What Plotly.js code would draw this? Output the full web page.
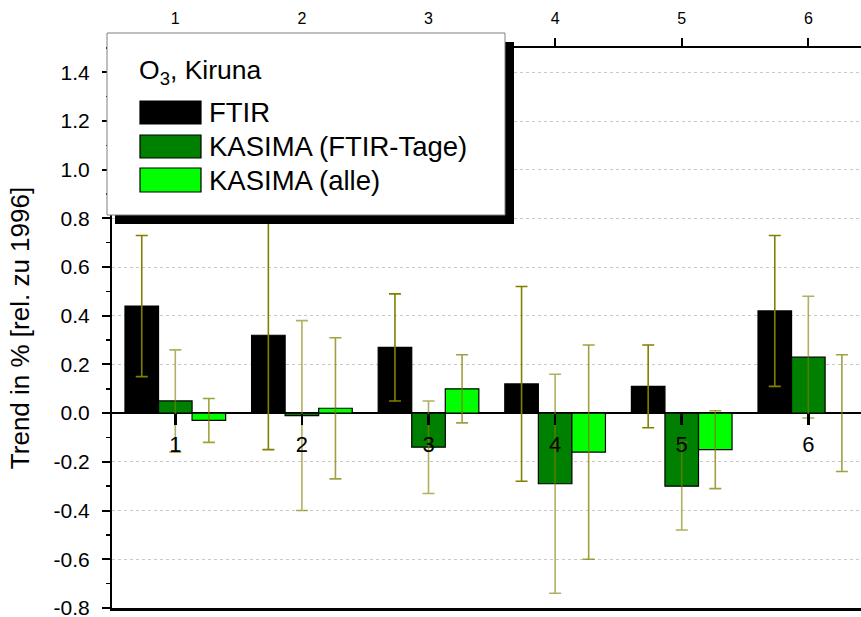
<!DOCTYPE html>
<html>
<head>
<meta charset="utf-8">
<script src="https://cdn.plot.ly/plotly-3.0.1.min.js"></script>
<style>html,body{margin:0;padding:0;background:#fff;}#chart{width:861px;height:617px;}</style>
</head>
<body>
<div id="chart"></div>
<script>
// ---- data ----
const categories = [1, 2, 3, 4, 5, 6];
const tickLabels = ['1', '2', '3', '4', '5', '6'];
const seriesNames = ['FTIR', 'KASIMA (FTIR-Tage)', 'KASIMA (alle)'];
const ftir = [0.44, 0.32, 0.27, 0.12, 0.11, 0.42];
const ftirErr = [0.29, 0.47, 0.22, 0.40, 0.17, 0.31];
const kasimaTage = [0.05, -0.01, -0.14, -0.29, -0.30, 0.23];
const kasimaTageErr = [0.21, 0.39, 0.19, 0.45, 0.18, 0.25];
const kasimaAlle = [-0.03, 0.02, 0.10, -0.16, -0.15, 0.00];
const kasimaAlleErr = [0.09, 0.29, 0.14, 0.44, 0.16, 0.24];
const yTickVals = [-0.8, -0.6, -0.4, -0.2, 0.0, 0.2, 0.4, 0.6, 0.8, 1.0, 1.2, 1.4];

// ---- styles ----
const FONT = 'Liberation Sans, Arial, sans-serif';
const colors = ['#000000', '#008000', '#00ff00'];
const errColors = ['#808000', 'rgba(128,128,0,0.62)', 'rgba(128,128,0,0.75)'];
const W = 861, H = 617;
const M = {l: 112, r: 0, t: 48, b: 9};
const PW = W - M.l - M.r, PH = H - M.t - M.b;
const px = x => (x - M.l) / PW;
const py = y => (H - M.b - y) / PH;

const values = [ftir, kasimaTage, kasimaAlle];
const errs = [ftirErr, kasimaTageErr, kasimaAlleErr];

const traces = values.map((v, i) => ({
  type: 'bar',
  name: seriesNames[i],
  x: categories,
  y: v,
  marker: {color: colors[i], line: {color: '#000', width: 1.2}},
  error_y: {type: 'data', array: errs[i], visible: true, color: errColors[i], thickness: 1.6, width: 6},
  showlegend: false,
  hoverinfo: 'skip'
}));

const xr = [0.5, 6.416];
const yr = [-0.8005, 1.5];

// legend drawn as shapes + annotations
const shapes = [
  {type: 'rect', xref: 'paper', yref: 'paper', x0: px(115), x1: px(514), y0: py(224), y1: py(42),
   fillcolor: '#000', line: {width: 0}, layer: 'above'},
  {type: 'rect', xref: 'paper', yref: 'paper', x0: px(107), x1: px(505), y0: py(215), y1: py(33),
   fillcolor: '#fff', line: {color: '#808080', width: 1}, layer: 'above'}
];
const annotations = [
  {xref: 'paper', yref: 'paper', x: px(137), y: py(72), xanchor: 'left', yanchor: 'middle',
   text: 'O<sub>3</sub>, Kiruna', showarrow: false, font: {family: FONT, size: 26.5, color: '#000'}}
];
const swY = [[101, 124], [135, 158], [168, 192]];
seriesNames.forEach((n, i) => {
  shapes.push({type: 'rect', xref: 'paper', yref: 'paper', x0: px(140), x1: px(201),
    y0: py(swY[i][1]), y1: py(swY[i][0]), fillcolor: colors[i], line: {color: '#000', width: 1.2}, layer: 'above'});
  annotations.push({xref: 'paper', yref: 'paper', x: px(207), y: py((swY[i][0] + swY[i][1]) / 2),
    xanchor: 'left', yanchor: 'middle', text: n, showarrow: false,
    font: {family: FONT, size: 27.5, color: '#000'}});
});

const layout = {
  width: W, height: H,
  margin: M,
  paper_bgcolor: '#fff', plot_bgcolor: '#fff',
  font: {family: FONT, color: '#000'},
  barmode: 'group', bargap: 0.205, bargroupgap: 0,
  showlegend: false,
  xaxis: {
    range: xr, showgrid: false, zeroline: false, showticklabels: false, ticks: '',
    showline: true, linecolor: '#000', linewidth: 3, mirror: false, fixedrange: true
  },
  xaxis2: {
    overlaying: 'x', side: 'top', anchor: 'y', range: xr,
    tickmode: 'array', tickvals: categories, ticktext: tickLabels,
    ticks: 'outside', ticklen: 8, tickwidth: 2, tickcolor: '#000',
    ticklabelstandoff: 8,
    showline: true, linecolor: '#000', linewidth: 2, showgrid: false, zeroline: false,
    tickfont: {family: FONT, size: 16, color: '#000'}
  },
  xaxis3: {
    overlaying: 'x', anchor: 'free', position: 0.8005 / 2.3005, side: 'bottom', range: xr,
    tickmode: 'array', tickvals: categories, ticktext: tickLabels,
    ticks: 'outside', ticklen: 11, tickwidth: 2.5, tickcolor: '#000',
    showline: false, showgrid: false, zeroline: false,
    tickfont: {family: FONT, size: 22, color: '#000'}
  },
  yaxis: {
    range: yr, tickmode: 'array', tickvals: yTickVals,
    ticktext: yTickVals.map(v => v.toFixed(1)),
    ticks: 'outside', ticklen: 8, tickwidth: 2, tickcolor: '#000',
    ticklabelstandoff: 8, ticklabeloverflow: 'allow',
    minor: {dtick: 0.1, tick0: 0, ticks: 'outside', ticklen: 4, tickwidth: 1.5, tickcolor: '#000', showgrid: false},
    showline: true, linecolor: '#000', linewidth: 2,
    showgrid: true, gridcolor: '#c8c8c8', griddash: 'dot', gridwidth: 1,
    zeroline: true, zerolinecolor: '#000', zerolinewidth: 2.5,
    tickfont: {family: FONT, size: 21, color: '#000'},
    title: {text: 'Trend in % [rel. zu 1996]', font: {family: FONT, size: 26, color: '#000'}, standoff: 17},
    automargin: false
  },
  shapes: shapes,
  annotations: annotations
};

// invisible helper traces so the extra category axes are drawn
const helpers = [
  {type: 'scatter', x: categories, y: kasimaAlle, xaxis: 'x2', yaxis: 'y', mode: 'markers',
   marker: {opacity: 0}, hoverinfo: 'skip', showlegend: false},
  {type: 'scatter', x: categories, y: kasimaAlle, xaxis: 'x3', yaxis: 'y', mode: 'markers',
   marker: {opacity: 0}, hoverinfo: 'skip', showlegend: false}
];

Plotly.newPlot('chart', traces.concat(helpers), layout, {staticPlot: true, displayModeBar: false});
</script>
</body>
</html>
